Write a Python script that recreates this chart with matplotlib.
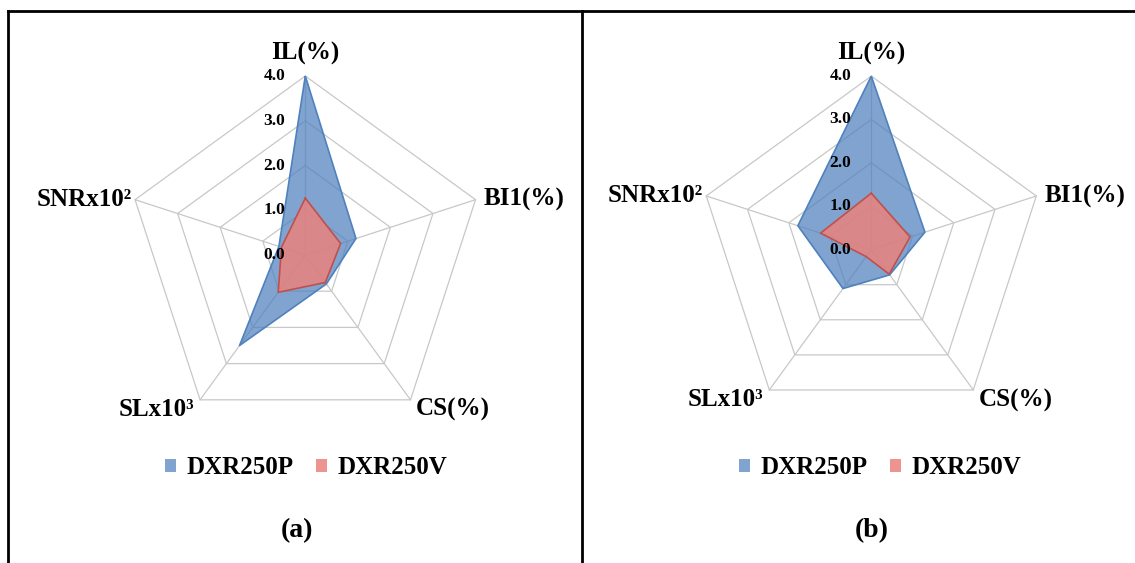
# %%
import numpy as np
import matplotlib
matplotlib.use("Agg")
import matplotlib.pyplot as plt
from matplotlib.lines import Line2D
from matplotlib.patches import Patch

# %%
# Datos (ejes del radar en sentido horario desde arriba)
categorias = ["IL(%)", "BI1(%)", "CS(%)", "SLx10³", "SNRx10²"]
series = ["DXR250P", "DXR250V"]

a_dxr250p = [4.00, 1.19, 0.80, 2.50, 0.62]
a_dxr250v = [1.27, 0.83, 0.76, 1.03, 0.56]

b_dxr250p = [4.00, 1.30, 0.72, 1.11, 1.78]
b_dxr250v = [1.30, 0.94, 0.70, 0.20, 1.23]

niveles = [0, 1, 2, 3, 4]
etiquetas_niveles = ["0.0", "1.0", "2.0", "3.0", "4.0"]
paneles = ["(a)", "(b)"]

# %%
# Estilo general
plt.rcParams["font.family"] = ["Liberation Serif", "DejaVu Serif"]
plt.rcParams["font.weight"] = "bold"

W, H = 1135, 563
fig = plt.figure(figsize=(W / 100, H / 100), dpi=100)

color_p = "#4F81BD"
color_v = "#C0504D"
relleno_p = (0.31, 0.506, 0.741, 0.72)
relleno_v = (0.92, 0.51, 0.49, 0.85)
color_rejilla = "#C8C8C8"

angulos = np.linspace(0, 2 * np.pi, len(categorias), endpoint=False)
angulos_cerrados = np.append(angulos, angulos[0])

# desplazamientos (px) de los nombres de los ejes respecto al vértice exterior
offsets = [(0, 23, "center"), (8, 0, "left"), (5, -10, "left"),
           (-6, -10, "right"), (-3, 0, "right")]

# centro y radio de cada radar en píxeles
geometria = [(305.3, 255.0, 179.0), (871.3, 249.6, 173.5)]
datos = [(a_dxr250p, a_dxr250v), (b_dxr250p, b_dxr250v)]
centro_leyenda = [306, 880]

for i, (cx, cy, R) in enumerate(geometria):
    ax = fig.add_axes([(cx - R) / W, (H - cy - R) / H, 2 * R / W, 2 * R / H],
                      projection="polar")
    ax.set_theta_offset(np.pi / 2)
    ax.set_theta_direction(-1)
    ax.set_ylim(0, niveles[-1])
    ax.set_axis_off()

    # rejilla pentagonal y radios
    for r in niveles[1:]:
        ax.plot(angulos_cerrados, [r] * len(angulos_cerrados), color=color_rejilla,
                lw=0.9, clip_on=False, zorder=1)
    for t in angulos:
        ax.plot([t, t], [0, niveles[-1]], color=color_rejilla, lw=0.9,
                clip_on=False, zorder=1)

    # series
    vp, vv = datos[i]
    vp_c = np.append(vp, vp[0])
    vv_c = np.append(vv, vv[0])
    ax.fill(angulos_cerrados, vp_c, facecolor=relleno_p, edgecolor="none", zorder=2)
    ax.plot(angulos_cerrados, vp_c, color=color_p, lw=1.2, zorder=3)
    ax.fill(angulos_cerrados, vv_c, facecolor=relleno_v, edgecolor="none", zorder=4)
    ax.plot(angulos_cerrados, vv_c, color=color_v, lw=1.2, zorder=5)

    # etiquetas de los niveles sobre el eje IL
    for r, txt in zip(niveles, etiquetas_niveles):
        ax.annotate(txt, xy=(0, r), xytext=(-20, 0), textcoords="offset pixels",
                    ha="right", va="center", fontsize=12.5, fontweight="bold",
                    annotation_clip=False, zorder=6)

    # nombres de los ejes
    for t, nombre, (dx, dy, ha) in zip(angulos, categorias, offsets):
        ax.annotate(nombre, xy=(t, niveles[-1]), xytext=(dx, dy),
                    textcoords="offset pixels", ha=ha, va="center",
                    fontsize=18, fontweight="bold", annotation_clip=False)

    # leyenda
    manejadores = [Patch(facecolor=relleno_p, edgecolor="none"),
                   Patch(facecolor=relleno_v, edgecolor="none")]
    fig.legend(manejadores, series, loc="center",
               bbox_to_anchor=(centro_leyenda[i] / W, 1 - 468 / H),
               ncol=2, frameon=False, handlelength=0.45,
               handleheight=0.45, handletextpad=0.4, columnspacing=0.9,
               prop={"weight": "bold", "size": 18})

    # letra del panel
    fig.text([297, 872][i] / W, 1 - 531 / H, paneles[i], ha="center", va="center",
             fontsize=20, fontweight="bold")

# %%
# Marco de la figura
borde = dict(color="black", lw=2, transform=fig.transFigure)
fig.add_artist(Line2D([8 / W, 1], [1 - 11 / H, 1 - 11 / H], **borde))
fig.add_artist(Line2D([8 / W, 8 / W], [0, 1 - 11 / H], **borde))
fig.add_artist(Line2D([582 / W, 582 / W], [0, 1 - 11 / H], **borde))

fig.savefig("out.png", dpi=100)
